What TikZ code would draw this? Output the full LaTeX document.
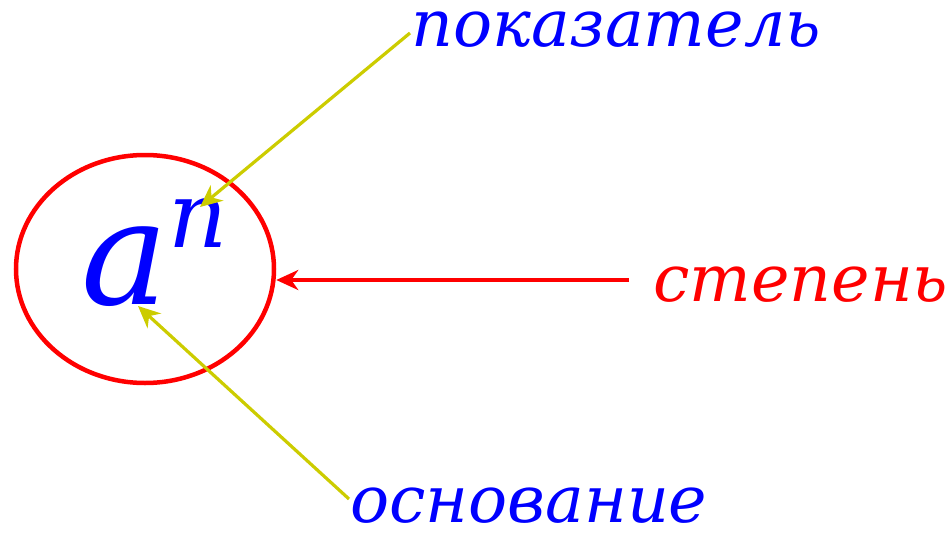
\documentclass[tikz,border=0pt]{standalone}
\usepackage{fontspec}
\setmainfont{DejaVu Serif}
\usetikzlibrary{arrows.meta,shapes.geometric}
\definecolor{myyellow}{RGB}{204,204,0}
\definecolor{myred}{RGB}{255,0,0}
\definecolor{myblue}{RGB}{0,0,255}
\tikzset{
  lbl/.style={anchor=base west,inner sep=0pt,font=\itshape\fontsize{65}{65}\selectfont},
  yarrow/.style={draw=myyellow,line width=3.2pt,-{Stealth[length=22pt,width=20pt,inset=7pt]}},
  rarrow/.style={draw=myred,line width=3.8pt,-{Stealth[length=22pt,width=20pt,inset=7pt]}}
}
\begin{document}
\begin{tikzpicture}[x=1pt,y=-1pt]
\useasboundingbox (0,0) rectangle (949,532);
\node[draw=myred,line width=4.5pt,ellipse,minimum width=258pt,minimum height=228pt,inner sep=0pt] (E) at (145,269) {};
\node[anchor=base west,inner sep=0pt,text=myblue,font=\itshape\fontsize{146}{146}\selectfont] (a) at (81,304) {a};
\node[anchor=base west,inner sep=0pt,text=myblue,font=\itshape\fontsize{92}{92}\selectfont] (n) at (168,247) {n};
\node[lbl,text=myblue] (pok) at (411,47) {показатель};
\node[lbl,text=myred] (st) at (653,301) {степень};
\node[lbl,text=myblue] (osn) at (350,522) {основание};
\coordinate (ptip) at (200,207);
\coordinate (otip) at (138,306);
\coordinate (pstart) at (410,33);
\coordinate (ostart) at (349,499);
\coordinate (sstart) at (629,280);
\draw[yarrow] (pstart) -- (ptip);
\draw[yarrow] (ostart) -- (otip);
\draw[rarrow] (sstart) -- (E.east |- sstart);
\end{tikzpicture}
\end{document}
